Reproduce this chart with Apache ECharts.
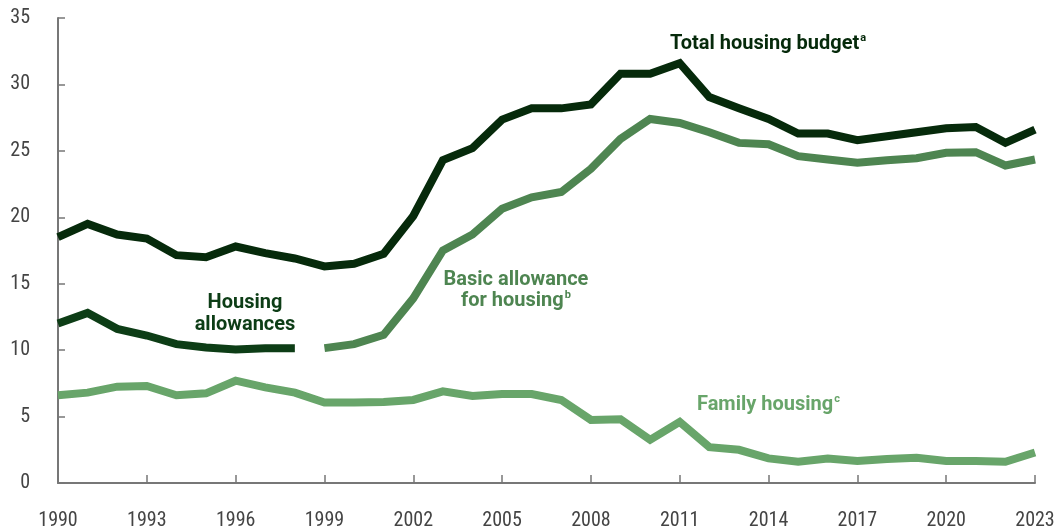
<!DOCTYPE html>
<html><head><meta charset="utf-8">
<script src="https://cdn.jsdelivr.net/npm/echarts@6/dist/echarts.min.js"></script>
<style>html,body{margin:0;padding:0;background:#fff}#c{width:1062px;height:531px}</style>
</head><body><div id="c"></div>
<script>
const years = [];
for (let y = 1990; y <= 2023; y++) years.push(String(y));
const totalBudget = [18.5,19.5,18.7,18.4,17.15,17.0,17.8,17.3,16.9,16.3,16.5,17.25,20.1,24.3,25.2,27.35,28.2,28.2,28.5,30.8,30.8,31.6,29.05,28.2,27.4,26.3,26.3,25.8,26.1,26.4,26.7,26.8,25.6,26.6];
const housingAllowances = [12.0,12.8,11.6,11.1,10.45,10.2,10.05,10.15,10.15];
const basicAllowance = [10.15,10.45,11.15,13.9,17.5,18.7,20.65,21.5,21.9,23.65,25.9,27.4,27.1,26.4,25.6,25.5,24.6,24.35,24.1,24.3,24.45,24.85,24.9,23.9,24.35];
const familyHousing = [6.6,6.8,7.25,7.3,6.6,6.75,7.7,7.2,6.8,6.05,6.05,6.1,6.25,6.9,6.55,6.7,6.7,6.25,4.75,4.8,3.25,4.6,2.7,2.5,1.85,1.6,1.85,1.65,1.8,1.9,1.65,1.65,1.6,2.3];
const yTicks = [0,5,10,15,20,25,30,35];

const pad = (arr, before, total) => {
  const out = [];
  for (let i = 0; i < total; i++) {
    const j = i - before;
    out.push(j >= 0 && j < arr.length ? arr[j] : null);
  }
  return out;
};
const n = years.length;
const FONT = '"Roboto Condensed", "Liberation Sans Narrow", "Roboto", sans-serif';
const AFONT = '"Roboto", sans-serif';
const chart = echarts.init(document.getElementById('c'));
const lineSeries = (name, data, color) => ({
  name, type: 'line', data, showSymbol: false, symbol: 'none',
  lineStyle: { width: 8, color, join: 'miter', cap: 'butt' },
  itemStyle: { color }, connectNulls: false, animation: false, z: 3
});
const sup = (fill) => ({ font: 'bold 11px ' + AFONT, fill, padding: [0, 0, 10, 1] });
const main = (fill) => ({ font: 'bold 20px ' + AFONT, fill });
chart.setOption({
  animation: false,
  grid: { left: 58, right: 27, top: 18, bottom: 47, containLabel: false },
  xAxis: {
    type: 'category', data: years, boundaryGap: false,
    axisLine: { lineStyle: { color: '#777', width: 2 } },
    axisTick: { inside: true, length: 8, interval: 2, alignWithLabel: true, lineStyle: { color: '#777', width: 1.5 } },
    axisLabel: { interval: 2, color: '#444', fontSize: 20, fontFamily: FONT, margin: 28 },
    splitLine: { show: false }
  },
  yAxis: {
    type: 'value', min: yTicks[0], max: yTicks[yTicks.length - 1], interval: 5,
    axisLine: { show: true, lineStyle: { color: '#777', width: 2 } },
    axisTick: { show: true, inside: true, length: 7, lineStyle: { color: '#777', width: 1.5 } },
    axisLabel: { color: '#444', fontSize: 20, fontFamily: FONT, margin: 28 },
    splitLine: { show: false }
  },
  series: [
    lineSeries('Family housing', familyHousing, '#68a56a'),
    lineSeries('Basic allowance for housing', pad(basicAllowance, 9, n), '#4e8551'),
    lineSeries('Housing allowances', pad(housingAllowances, 0, n), '#0d3d16'),
    lineSeries('Total housing budget', totalBudget, '#062a0b')
  ],
  graphic: [
    { type: 'text', x: 670, y: 33, style: { text: '{m|Total housing budget}{s|a}', rich: { m: main('#062a0b'), s: sup('#062a0b') } } },
    { type: 'text', x: 245, y: 292, style: { text: '{m|Housing}\n{m|allowances}', align: 'center', rich: { m: Object.assign(main('#0d3d16'), { lineHeight: 22 }) } } },
    { type: 'text', x: 516, y: 269, style: { text: '{m|Basic allowance}\n{m|for housing}{s|b}', align: 'center', rich: { m: Object.assign(main('#4e8551'), { lineHeight: 21 }), s: sup('#4e8551') } } },
    { type: 'text', x: 697, y: 394, style: { text: '{m|Family housing}{s|c}', rich: { m: main('#68a56a'), s: sup('#68a56a') } } }
  ]
});
</script></body></html>
